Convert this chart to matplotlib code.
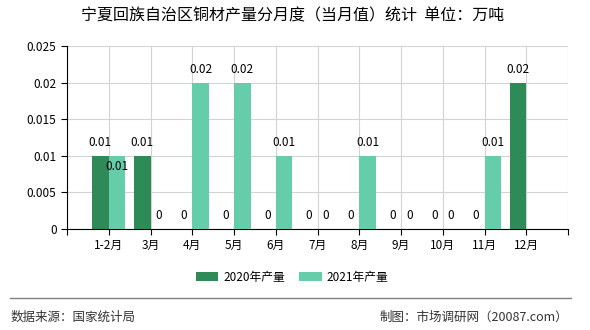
import numpy as np
import matplotlib
matplotlib.use("Agg")
import matplotlib.pyplot as plt

plt.rcParams['font.family'] = ['Noto Sans CJK SC', 'DejaVu Sans']

months = ["1-2月", "3月", "4月", "5月", "6月", "7月", "8月", "9月", "10月", "11月", "12月"]
output_2020 = [0.01, 0.01, 0, 0, 0, 0, 0, 0, 0, 0, 0.02]
output_2021 = [0.01, 0, 0.02, 0.02, 0.01, 0, 0.01, 0, 0, 0.01, None]
yticks = [0, 0.005, 0.01, 0.015, 0.02, 0.025]

dark = "#2e8b57"
light = "#66cdaa"

fig = plt.figure(figsize=(5.9, 3.3), dpi=100)
ax = fig.add_axes([67/590, 1-229/330, (568-67)/590, (229-46)/330])

x = np.arange(1, len(months)+1)
w = 0.4
x21 = [xi for xi, v in zip(x, output_2021) if v is not None]
v21 = [v for v in output_2021 if v is not None]

b20 = ax.bar(x, output_2020, width=-w, align="edge", color=dark, label="2020年产量", zorder=3)
b21 = ax.bar(x21, v21, width=w, align="edge", color=light, label="2021年产量", zorder=3)

def fmt(v):
    return "0" if v == 0 else f"{v:g}"

for xi, v in zip(x, output_2020):
    ax.text(xi - w/2, v + 0.0009, fmt(v), ha="center", va="bottom", fontsize=8.5, zorder=4)
for i, (xi, v) in enumerate(zip(x21, v21)):
    off = 0.0009
    if i == 0:
        off = -0.0023
    ax.text(xi + w/2, v + off, fmt(v), ha="center", va="bottom", fontsize=8.5, zorder=4)

ax.set_xlim(0, 12)
ax.set_ylim(0, 0.025)
ax.set_yticks(yticks)
ax.set_yticklabels(["0", "0.005", "0.01", "0.015", "0.02", "0.025"], fontsize=8.5)
ax.set_xticks(np.arange(0, 13))
ax.set_xticklabels([""] + months + [""], fontsize=8.5)
ax.grid(True, color="#d3d3d3", linewidth=0.8, zorder=0)
for s in ["top", "right"]:
    ax.spines[s].set_visible(False)
ax.spines["left"].set_color("black")
ax.spines["bottom"].set_color("black")
ax.tick_params(length=4, color="black")

fig.text(293/590, 1-16/330, "宁夏回族自治区铜材产量分月度（当月值）统计  单位：万吨",
         ha="center", va="center", fontsize=11.5)

fig.legend(handles=[b20, b21], loc="center", bbox_to_anchor=(292/590, 1-277/330),
           ncol=2, frameon=False, fontsize=8.5, handlelength=1.9, handleheight=0.7,
           handletextpad=0.4, columnspacing=1.2)

fig.add_artist(plt.Line2D([10/590, 571/590], [1-298/330, 1-298/330], color="#808080", linewidth=1))
fig.text(11/590, 1-317/330, "数据来源：国家统计局", ha="left", va="center", fontsize=9, color="#333333")
fig.text(568/590, 1-317/330, "制图：市场调研网（20087.com）", ha="right", va="center", fontsize=9, color="#333333")

fig.savefig("out.png", dpi=100)
